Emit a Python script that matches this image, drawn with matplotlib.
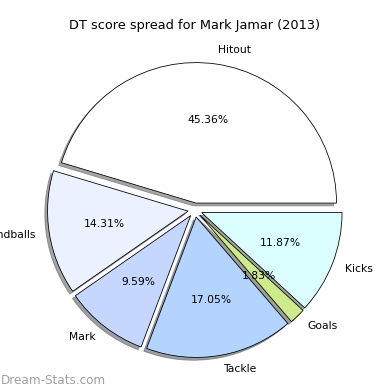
import matplotlib
matplotlib.use("Agg")
import matplotlib.pyplot as plt

# DT score breakdown, Mark Jamar 2013
labels = ["Hitout", "Handballs", "Mark", "Tackle", "Goals", "Kicks"]
shares = [45.36, 14.31, 9.59, 17.05, 1.83, 11.87]
colors = ["#ffffff", "#ebf1ff", "#c5d6ff", "#b3d4ff", "#cdeb8b", "#dbffff"]
explode = [0.05] * len(labels)

fig = plt.figure(figsize=(390 / 72, 390 / 72), dpi=72)
ax = fig.add_axes([0, 0, 1, 1])

wedges, texts, autotexts = ax.pie(
    shares,
    labels=labels,
    colors=colors,
    explode=explode,
    autopct="%1.2f%%",
    shadow=True,
    startangle=0,
    wedgeprops={"edgecolor": "black", "linewidth": 0.8},
    textprops={"fontsize": 10.7},
)

ax.set_xlim(-1.388, 1.388)
ax.set_ylim(-1.281, 1.495)
ax.set_aspect("equal")
ax.axis("off")

fig.text(195 / 390, 1 - 26 / 390, "DT score spread for Mark Jamar (2013)",
         ha="center", va="center", fontsize=12.9)
fig.text(0.002, 1 - 380 / 390, "Dream-Stats.com", ha="left", va="center",
         fontsize=12, color="#a0a0a0")

plt.savefig("out.png", dpi=72)
